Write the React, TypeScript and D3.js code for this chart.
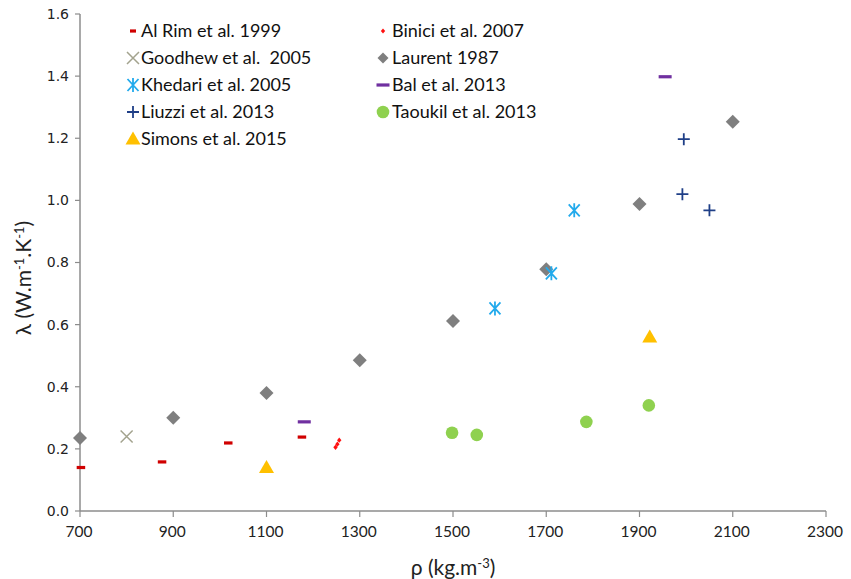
import React from "react";
import * as d3 from "d3";

const xTicks = [700, 900, 1100, 1300, 1500, 1700, 1900, 2100, 2300];
const yTicks = [0, 0.2, 0.4, 0.6, 0.8, 1.0, 1.2, 1.4, 1.6];

const alRim = [[702, 0.14], [876, 0.158], [1018, 0.219], [1176, 0.238]];
const binici = [[1248, 0.205], [1252, 0.215], [1256, 0.228]];
const goodhew = [[800, 0.24]];
const laurent = [[700, 0.235], [900, 0.30], [1100, 0.38], [1300, 0.485], [1500, 0.612], [1700, 0.778], [1900, 0.988], [2100, 1.253]];
const khedari = [[1590, 0.652], [1711, 0.765], [1760, 0.968]];
const bal = [[1181, 0.287], [1955, 1.398]];
const liuzzi = [[1995, 1.197], [1992, 1.02], [2050, 0.968]];
const taoukil = [[1498, 0.252], [1551, 0.245], [1786, 0.287], [1920, 0.34]];
const simons = [[1100, 0.14], [1922, 0.56]];

const seriesNames = [
  "Al Rim et al. 1999", "Binici et al. 2007", "Goodhew et al.  2005", "Laurent 1987",
  "Khedari et al. 2005", "Bal et al. 2013", "Liuzzi et al. 2013", "Taoukil et al. 2013",
  "Simons et al. 2015",
];

type Kind = "dash" | "smallDiamond" | "x" | "diamond" | "asterisk" | "bar" | "plus" | "circle" | "triangle";

const seriesList: { name: string; data: number[][]; kind: Kind; color: string }[] = [
  { name: seriesNames[0], data: alRim, kind: "dash", color: "#d00000" },
  { name: seriesNames[1], data: binici, kind: "smallDiamond", color: "#ff1010" },
  { name: seriesNames[2], data: goodhew, kind: "x", color: "#a3a38e" },
  { name: seriesNames[3], data: laurent, kind: "diamond", color: "#7f7f7f" },
  { name: seriesNames[4], data: khedari, kind: "asterisk", color: "#22aaec" },
  { name: seriesNames[5], data: bal, kind: "bar", color: "#7030a0" },
  { name: seriesNames[6], data: liuzzi, kind: "plus", color: "#1f3f87" },
  { name: seriesNames[7], data: taoukil, kind: "circle", color: "#8fd14f" },
  { name: seriesNames[8], data: simons, kind: "triangle", color: "#ffc000" },
];

function Marker({ kind, color, x, y, legend }: { kind: Kind; color: string; x: number; y: number; legend?: boolean }) {
  switch (kind) {
    case "dash": {
      const w = legend ? 6 : 8.5;
      return <rect x={x - w / 2} y={y - 1.6} width={w} height={3.2} fill={color} />;
    }
    case "smallDiamond":
      return <path d={`M${x},${y - 2.6}L${x + 2.2},${y}L${x},${y + 2.6}L${x - 2.2},${y}Z`} fill={color} />;
    case "x":
      return (
        <path d={`M${x - 6},${y - 6}L${x + 6},${y + 6}M${x - 6},${y + 6}L${x + 6},${y - 6}`} stroke={color} strokeWidth={1.5} fill="none" />
      );
    case "diamond": {
      const r = legend ? 5.5 : 7;
      return <path d={`M${x},${y - r}L${x + r},${y}L${x},${y + r}L${x - r},${y}Z`} fill={color} />;
    }
    case "asterisk":
      return (
        <path d={`M${x - 5.5},${y - 6}L${x + 5.5},${y + 6}M${x - 5.5},${y + 6}L${x + 5.5},${y - 6}M${x},${y - 7}L${x},${y + 7}`} stroke={color} strokeWidth={1.8} fill="none" />
      );
    case "bar":
      return <rect x={x - 6.5} y={y - 1.6} width={13} height={3.2} fill={color} />;
    case "plus":
      return (
        <path d={`M${x - 6},${y}L${x + 6},${y}M${x},${y - 6}L${x},${y + 6}`} stroke={color} strokeWidth={1.8} fill="none" />
      );
    case "circle":
      return <circle cx={x} cy={y} r={6.3} fill={color} />;
    case "triangle":
      return <path d={`M${x},${y - 7.5}L${x + 7.5},${y + 5.5}L${x - 7.5},${y + 5.5}Z`} fill={color} />;
  }
}

export default function App() {
  const W = 851, H = 579;
  const left = 80, right = 826, top = 14, bottom = 511;
  const x = d3.scaleLinear().domain([700, 2300]).range([left, right]);
  const y = d3.scaleLinear().domain([0, 1.6]).range([bottom, top]);
  const axisColor = "#8c8c8c";
  const tickFont = "'Lato', 'Open Sans', sans-serif";

  const legendCols = [
    { mx: 133, tx: 141 },
    { mx: 383, tx: 392 },
  ];
  const legendRows = [31, 58, 85, 112, 139];

  return (
    <svg width={W} height={H} style={{ position: "absolute", left: 0, top: 0, background: "#fff" }}>
      <rect x={0} y={0} width={W} height={H} fill="#fff" />
      {/* axes */}
      <line x1={left} x2={left} y1={top} y2={bottom} stroke={axisColor} strokeWidth={1.5} />
      <line x1={left} x2={right} y1={bottom} y2={bottom} stroke={axisColor} strokeWidth={1.5} />
      {yTicks.map((t) => (
        <g key={"y" + t}>
          <line x1={left - 5} x2={left} y1={y(t)} y2={y(t)} stroke={axisColor} strokeWidth={1.2} />
          <text x={left - 11} y={y(t)} dy="0.35em" textAnchor="end" fontFamily="'DejaVu Sans', Verdana, sans-serif" fontSize={14} fill="#222">
            {d3.format(".1f")(t)}
          </text>
        </g>
      ))}
      {xTicks.map((t) => (
        <g key={"x" + t}>
          <line x1={x(t)} x2={x(t)} y1={bottom} y2={bottom + 6} stroke={axisColor} strokeWidth={1.2} />
          <text x={x(t) - 1} y={bottom + 26} textAnchor="middle" fontFamily={tickFont} fontSize={15.5} fill="#222">
            {t}
          </text>
        </g>
      ))}
      {/* axis titles */}
      <text x={453} y={568} dy="0.35em" textAnchor="middle" fontFamily={tickFont} fontSize={21} fill="#222">
        ρ (kg.m<tspan dy="-7" fontSize={13}>-3</tspan><tspan dy="7">)</tspan>
      </text>
      <text transform={`translate(24,278) rotate(-90)`} textAnchor="middle" dy="0.35em" fontFamily={tickFont} fontSize={21} fill="#222">
        λ (W.m<tspan dy="-7" fontSize={13}>-1</tspan><tspan dy="7">.K</tspan><tspan dy="-7" fontSize={13}>-1</tspan><tspan dy="7">)</tspan>
      </text>
      {/* data */}
      {seriesList.map((s) => (
        <g key={s.name}>
          {s.data.map((d, i) => (
            <Marker key={i} kind={s.kind} color={s.color} x={x(d[0])} y={y(d[1])} />
          ))}
        </g>
      ))}
      {/* legend */}
      {seriesList.map((s, i) => {
        const col = legendCols[i % 2];
        const ry = legendRows[Math.floor(i / 2)];
        return (
          <g key={"lg" + i}>
            <Marker kind={s.kind} color={s.color} x={col.mx} y={ry} legend />
            <text x={col.tx} y={ry} dy="0.35em" fontFamily={tickFont} fontSize={18} fill="#111" style={{ whiteSpace: "pre" }}>
              {s.name}
            </text>
          </g>
        );
      })}
    </svg>
  );
}
